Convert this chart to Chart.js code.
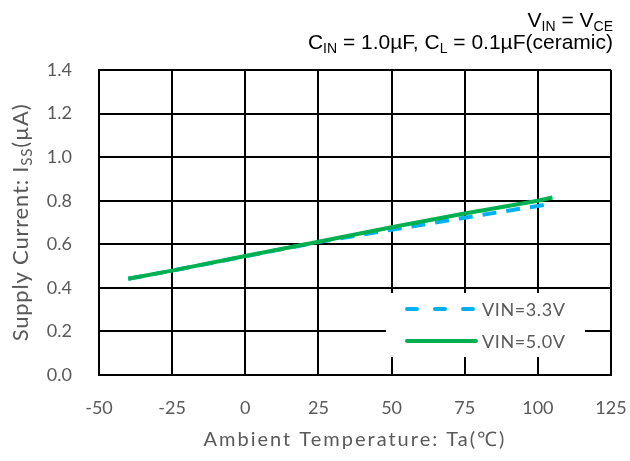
<!DOCTYPE html>
<html>
<head>
<meta charset="utf-8">
<script src="https://cdn.jsdelivr.net/npm/chart.js@4"></script>
<style>
  html, body { margin: 0; padding: 0; background: #fff; }
  #wrap { width: 630px; height: 461px; }
</style>
</head>
<body>
<div id="wrap"><canvas id="lineChart" width="630" height="461"></canvas></div>
<script>
// data
const temps = [-40, -25, 0, 25, 50, 75, 100, 105];
const vin33 = [0.442, 0.479, 0.545, 0.610, 0.667, 0.722, 0.776, 0.787];
const vin50 = [0.442, 0.479, 0.546, 0.612, 0.678, 0.741, 0.800, 0.815];
const seriesNames = ['VIN=3.3V', 'VIN=5.0V'];
const xTicks = [-50, -25, 0, 25, 50, 75, 100, 125];
const yTicks = [0, 0.2, 0.4, 0.6, 0.8, 1.0, 1.2, 1.4];

const GRAY = '#595959';
const BLUE = '#00B0F0';
const GREEN = '#00B050';
const FONT = 'Lato, "Open Sans", sans-serif';

function pts(ys) {
    return temps.map((t, i) => ({ x: t, y: ys[i] }));
}

// draws text with subscripts, parts = [[text, isSub], ...]
function richText(ctx, parts, x, y, align, size, family) {
    const subSize = Math.round(size * 0.66);
    let w = 0;
    parts.forEach(p => {
        ctx.font = (p[1] ? subSize : size) + 'px ' + family;
        w += ctx.measureText(p[0]).width;
    });
    let cx = align === 'right' ? x - w : (align === 'center' ? x - w / 2 : x);
    ctx.textAlign = 'left';
    ctx.textBaseline = 'alphabetic';
    parts.forEach(p => {
        ctx.font = (p[1] ? subSize : size) + 'px ' + family;
        ctx.fillText(p[0], cx, p[1] ? y + size * 0.2 : y);
        cx += ctx.measureText(p[0]).width;
    });
}

const extras = {
    id: 'extras',
    afterDatasetsDraw(chart) {
        const ctx = chart.ctx;
        const area = chart.chartArea;
        ctx.save();

        // legend box
        ctx.fillStyle = '#fff';
        ctx.fillRect(386, 293, 199, 64);
        const rows = [
            { y: 309, color: BLUE, dash: [10, 18] },
            { y: 341, color: GREEN, dash: [] }
        ];
        rows.forEach((r, i) => {
            ctx.strokeStyle = r.color;
            ctx.lineWidth = 4;
            ctx.lineCap = 'round';
            ctx.setLineDash(r.dash);
            ctx.beginPath();
            ctx.moveTo(407, r.y);
            ctx.lineTo(476, r.y);
            ctx.stroke();
            ctx.setLineDash([]);
            ctx.fillStyle = GRAY;
            ctx.font = '18px ' + FONT;
            ctx.letterSpacing = '0.6px';
            ctx.textAlign = 'left';
            ctx.textBaseline = 'middle';
            ctx.fillText(seriesNames[i], 482, r.y + 1);
            ctx.letterSpacing = '0px';
        });

        // conditions, top right
        ctx.fillStyle = '#000';
        const arial = '"Liberation Sans", Arial, sans-serif';
        richText(ctx, [['V', false], ['IN', true], [' = V', false], ['CE', true]], 613, 27, 'right', 21, arial);
        richText(ctx, [['C', false], ['IN', true], [' = 1.0\u00b5F, C', false], ['L', true], [' = 0.1\u00b5F(ceramic)', false]], 613, 49, 'right', 21, arial);

        // axis titles
        ctx.fillStyle = GRAY;
        ctx.letterSpacing = '2px';
        ctx.font = '20px ' + FONT;
        ctx.textAlign = 'center';
        ctx.textBaseline = 'middle';
        ctx.fillText('Ambient Temperature: Ta(\u2103)', (area.left + area.right) / 2, 440);
        ctx.letterSpacing = '0.8px';

        ctx.translate(21, (area.top + area.bottom) / 2);
        ctx.rotate(-Math.PI / 2);
        richText(ctx, [['Supply Current: I', false], ['SS', true], ['(\u00b5A)', false]], 0, 7, 'center', 22, FONT);
        ctx.restore();
    }
};

const ctx = document.getElementById('lineChart').getContext('2d');
const chart = new Chart(ctx, {
    type: 'line',
    data: {
        datasets: [{
            label: seriesNames[1],
            data: pts(vin50),
            borderColor: GREEN,
            borderWidth: 4,
            pointRadius: 0,
            tension: 0,
            fill: false
        }, {
            label: seriesNames[0],
            data: pts(vin33),
            borderColor: BLUE,
            borderWidth: 4,
            borderDash: [14, 10],
            pointRadius: 0,
            tension: 0,
            fill: false
        }]
    },
    options: {
        responsive: false,
        animation: false,
        layout: { padding: { left: 0, top: 70, right: 19, bottom: 0 } },
        plugins: {
            legend: { display: false },
            tooltip: { enabled: false }
        },
        scales: {
            x: {
                type: 'linear',
                min: -50,
                max: 125,
                afterBuildTicks: s => { s.ticks = xTicks.map(v => ({ value: v })); },
                afterFit: s => { s.height = 86; s.paddingLeft = 0; s.paddingRight = 0; },
                grid: { color: '#000', lineWidth: 2, drawTicks: false },
                border: { color: '#000', width: 2 },
                ticks: { color: GRAY, font: { family: FONT, size: 18 }, padding: 22 }
            },
            y: {
                min: 0,
                max: 1.4,
                afterBuildTicks: s => { s.ticks = yTicks.map(v => ({ value: v })); },
                afterFit: s => { s.width = 99; s.paddingTop = 0; s.paddingBottom = 0; },
                grid: { color: '#000', lineWidth: 2, drawTicks: false },
                border: { color: '#000', width: 2 },
                ticks: {
                    color: GRAY,
                    font: { family: FONT, size: 18 },
                    padding: 27,
                    callback: v => Number(v).toFixed(1)
                }
            }
        }
    },
    plugins: [extras]
});
</script>
</body>
</html>
